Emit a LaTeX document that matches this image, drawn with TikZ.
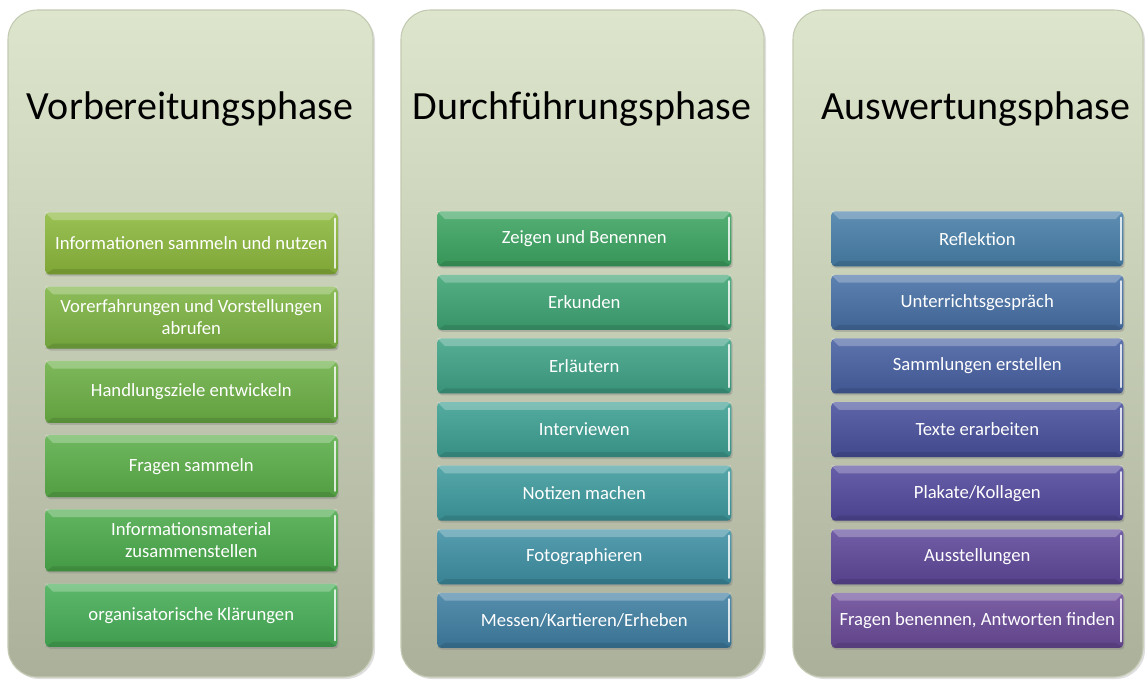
\documentclass[tikz,border=0pt]{standalone}
\usepackage{fontspec}
\setmainfont{Carlito}
\usetikzlibrary{shadows}
\definecolor{panTop}{HTML}{DDE6CC}
\definecolor{panMid}{HTML}{D2DAC0}
\definecolor{panBot}{HTML}{ABB09B}
\definecolor{panEdge}{HTML}{C3CAB2}
% column 1
\definecolor{ca1}{HTML}{8CB83C}
\definecolor{ca2}{HTML}{7DB443}
\definecolor{ca3}{HTML}{6CB045}
\definecolor{ca4}{HTML}{5BAE49}
\definecolor{ca5}{HTML}{4CAB4C}
\definecolor{ca6}{HTML}{47AE57}
% column 2
\definecolor{cb1}{HTML}{3DA562}
\definecolor{cb2}{HTML}{3EA474}
\definecolor{cb3}{HTML}{3FA386}
\definecolor{cb4}{HTML}{3D9F92}
\definecolor{cb5}{HTML}{3E9B9E}
\definecolor{cb6}{HTML}{3E90A4}
\definecolor{cb7}{HTML}{3F7EA2}
% column 3
\definecolor{cc1}{HTML}{487FA8}
\definecolor{cc2}{HTML}{4770A5}
\definecolor{cc3}{HTML}{4760A2}
\definecolor{cc4}{HTML}{48509C}
\definecolor{cc5}{HTML}{52499C}
\definecolor{cc6}{HTML}{5E489A}
\definecolor{cc7}{HTML}{6A4A98}
\tikzset{
  panel/.style={rounded corners=22pt, top color=panTop, middle color=panMid, bottom color=panBot,
    draw=panEdge, line width=0.8pt, drop shadow={opacity=0.25, shadow xshift=1.5pt, shadow yshift=-1.5pt}},
  phasetitle/.style={font=\fontsize{30}{36}\selectfont, text=black},
  itembox/.style={rectangle, rounded corners=3pt, inner sep=0pt, anchor=north west,
    align=center, text=white, font=\fontsize{14}{16.5}\selectfont,
    drop shadow={opacity=0.35, shadow xshift=1pt, shadow yshift=-1.5pt}},
  bevel/.style={white, opacity=0.25},
  edgehl/.style={white, opacity=0.8, line width=1.6pt, line cap=round}
}
% #1 name, #2 x, #3 y, #4 width, #5 height, #6 colour, #7 text
\newcommand\itemnode[7]{%
  \node[itembox, minimum width=#4*0.75pt, minimum height=#5*0.75pt,
        top color=#6!88!white, bottom color=#6!90!black] (#1) at (#2,#3) {#7};
  \fill[bevel] (#1.north west) -- (#1.north east) -- ([xshift=-6pt,yshift=-6pt]#1.north east)
     -- ([xshift=6pt,yshift=-6pt]#1.north west) -- cycle;
  \fill[black, opacity=0.10] (#1.south west) -- (#1.south east) -- ([xshift=-6pt,yshift=4pt]#1.south east)
     -- ([xshift=6pt,yshift=4pt]#1.south west) -- cycle;
  \draw[edgehl] ([xshift=-1.8pt,yshift=-5pt]#1.north east) -- ([xshift=-1.8pt,yshift=5pt]#1.south east);
}
\begin{document}
\begin{tikzpicture}[x=0.75pt,y=-0.75pt]
\useasboundingbox (0,0) rectangle (1147,679);
\fill[white] (0,0) rectangle (1147,679);
% panels
\path[panel] (8,10) rectangle (373,677);
\path[panel] (401,10) rectangle (764,677);
\path[panel] (793,10) rectangle (1143,677);
% titles
\node[phasetitle] (t1) at (190,109) {Vorbereitungsphase};
\node[phasetitle] (t2) at (582,109) {Durchführungsphase};
\node[phasetitle] (t3) at (976,109) {Auswertungsphase};
% column 1
\itemnode{a1}{45}{212}{292}{62}{ca1}{Informationen sammeln und nutzen}
\itemnode{a2}{45}{286.3}{292}{62}{ca2}{Vorerfahrungen und Vorstellungen\\abrufen}
\itemnode{a3}{45}{360.6}{292}{62}{ca3}{Handlungsziele entwickeln}
\itemnode{a4}{45}{434.9}{292}{62}{ca4}{Fragen sammeln}
\itemnode{a5}{45}{509.2}{292}{62}{ca5}{Informationsmaterial\\zusammenstellen}
\itemnode{a6}{45}{583.5}{292}{63}{ca6}{organisatorische Klärungen}
% column 2
\itemnode{b1}{437}{211}{294}{55}{cb1}{Zeigen und Benennen}
\itemnode{b2}{437}{274.6}{294}{55}{cb2}{Erkunden}
\itemnode{b3}{437}{338.2}{294}{55}{cb3}{Erläutern}
\itemnode{b4}{437}{401.8}{294}{55}{cb4}{Interviewen}
\itemnode{b5}{437}{465.4}{294}{55}{cb5}{Notizen machen}
\itemnode{b6}{437}{529}{294}{55}{cb6}{Fotographieren}
\itemnode{b7}{437}{592.6}{294}{55}{cb7}{Messen/Kartieren/Erheben}
% column 3
\itemnode{c1}{831}{211}{292}{55}{cc1}{Reflektion}
\itemnode{c2}{831}{274.6}{292}{55}{cc2}{Unterrichtsgespräch}
\itemnode{c3}{831}{338.2}{292}{55}{cc3}{Sammlungen erstellen}
\itemnode{c4}{831}{401.8}{292}{55}{cc4}{Texte erarbeiten}
\itemnode{c5}{831}{465.4}{292}{55}{cc5}{Plakate/Kollagen}
\itemnode{c6}{831}{529}{292}{55}{cc6}{Ausstellungen}
\itemnode{c7}{831}{592.6}{292}{55}{cc7}{Fragen benennen, Antworten finden}
\end{tikzpicture}
\end{document}
